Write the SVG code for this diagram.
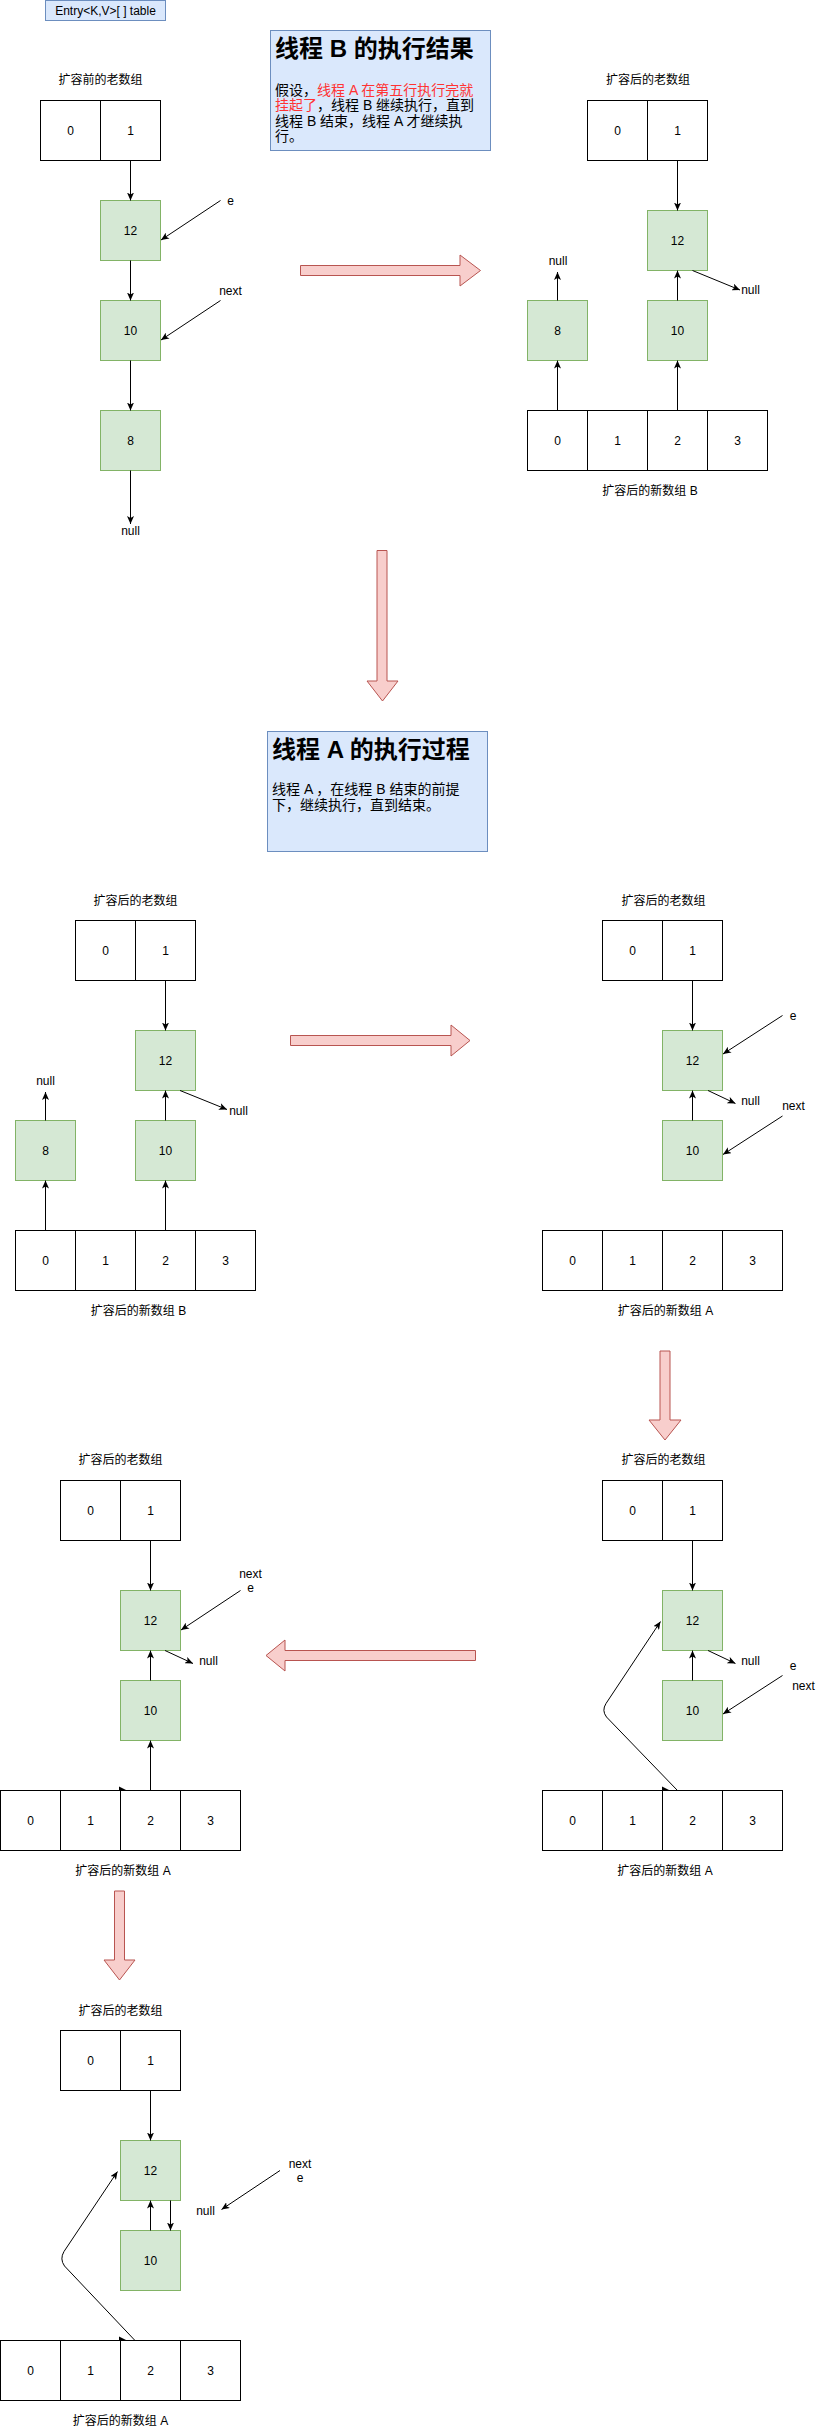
<svg xmlns="http://www.w3.org/2000/svg" width="824" height="2431" viewBox="0 0 824 2431">
<style>
text{font-family:"Liberation Sans","Noto Sans CJK SC",sans-serif;font-size:12px;fill:#000;text-anchor:middle}
.cell{fill:#fff;stroke:#000;stroke-width:1}
.nd{fill:#d5e8d4;stroke:#82b366;stroke-width:1}
.note{fill:#dae8fc;stroke:#6c8ebf;stroke-width:1}
.big{fill:#f8cecc;stroke:#b85450;stroke-width:1}
.e{fill:none;stroke:#000;stroke-width:1;marker-end:url(#ah)}
.h1{font-size:24px;font-weight:bold;text-anchor:start}
.bd{font-size:14px;text-anchor:start}
.red{fill:#ff3333}
.st{text-anchor:start}
</style>
<defs>
<marker id="ah" viewBox="0 0 8 7" refX="8" refY="3.5" markerWidth="8" markerHeight="7" orient="auto" markerUnits="userSpaceOnUse">
<path d="M0,0 L8,3.5 L0,7 L2,3.5 Z" fill="#000"/>
</marker>
</defs>

<g id="entry-label">
<rect class="note" x="45.5" y="0.5" width="120" height="20"/>
<text x="105.5" y="15">Entry&lt;K,V&gt;[ ] table</text>
</g>

<!-- Section 1: note -->
<g id="note-b">
<rect class="note" x="270.5" y="30.5" width="220" height="120"/>
<text class="h1" x="275" y="57">线程 B 的执行结果</text>
<text class="bd" x="275" y="94.5">假设，<tspan class="red">线程 A 在第五行执行完就</tspan></text>
<text class="bd" x="275" y="110"><tspan class="red">挂起了</tspan>，线程 B 继续执行，直到</text>
<text class="bd" x="275" y="125.5">线程 B 结束，线程 A 才继续执</text>
<text class="bd" x="275" y="141">行。</text>
</g>

<!-- Section 1 left -->
<g id="s1-old">
<text x="100.5" y="84">扩容前的老数组</text>
<rect class="cell" x="40.5" y="100.5" width="60" height="60"/><text x="70.5" y="134.5">0</text>
<rect class="cell" x="100.5" y="100.5" width="60" height="60"/><text x="130.5" y="134.5">1</text>
</g>
<g id="s1-n12"><rect class="nd" x="100.5" y="200.5" width="60" height="60"/><text x="130.5" y="234.5">12</text></g>
<g id="s1-n10"><rect class="nd" x="100.5" y="300.5" width="60" height="60"/><text x="130.5" y="334.5">10</text></g>
<g id="s1-n8"><rect class="nd" x="100.5" y="410.5" width="60" height="60"/><text x="130.5" y="444.5">8</text></g>
<g id="s1-labels">
<text x="130.5" y="535">null</text>
<text x="230.5" y="205">e</text>
<text x="230.5" y="295">next</text>
</g>

<!-- Section 1 right -->
<g id="s1r-old">
<text x="648" y="84">扩容后的老数组</text>
<rect class="cell" x="587.5" y="100.5" width="60" height="60"/><text x="617.5" y="134.5">0</text>
<rect class="cell" x="647.5" y="100.5" width="60" height="60"/><text x="677.5" y="134.5">1</text>
</g>
<g id="s1r-n12"><rect class="nd" x="647.5" y="210.5" width="60" height="60"/><text x="677.5" y="244.5">12</text></g>
<g id="s1r-n8"><rect class="nd" x="527.5" y="300.5" width="60" height="60"/><text x="557.5" y="334.5">8</text></g>
<g id="s1r-n10"><rect class="nd" x="647.5" y="300.5" width="60" height="60"/><text x="677.5" y="334.5">10</text></g>
<g id="s1r-new">
<rect class="cell" x="527.5" y="410.5" width="60" height="60"/><text x="557.5" y="444.5">0</text>
<rect class="cell" x="587.5" y="410.5" width="60" height="60"/><text x="617.5" y="444.5">1</text>
<rect class="cell" x="647.5" y="410.5" width="60" height="60"/><text x="677.5" y="444.5">2</text>
<rect class="cell" x="707.5" y="410.5" width="60" height="60"/><text x="737.5" y="444.5">3</text>
<text x="650" y="495">扩容后的新数组 B</text>
</g>
<g id="s1r-labels">
<text x="558" y="265">null</text>
<text x="750.5" y="294">null</text>
</g>

<g id="arrow-1"><path class="big" d="M300.5,265.5 H460 V255 L480.5,270.5 L460,286 V275.5 H300.5 Z"/></g>
<g id="arrow-2"><path class="big" d="M377,550.5 H387 V681 H398 L382.5,701 L367,681 H377 Z"/></g>

<!-- Section 2 note -->
<g id="note-a">
<rect class="note" x="267.5" y="731.5" width="220" height="120"/>
<text class="h1" x="272" y="758">线程 A 的执行过程</text>
<text class="bd" x="272" y="794">线程 A ，在线程 B 结束的前提</text>
<text class="bd" x="272" y="810">下，继续执行，直到结束。</text>
</g>

<!-- Section 3 left -->
<g id="s3l-old">
<text x="135.5" y="905">扩容后的老数组</text>
<rect class="cell" x="75.5" y="920.5" width="60" height="60"/><text x="105.5" y="954.5">0</text>
<rect class="cell" x="135.5" y="920.5" width="60" height="60"/><text x="165.5" y="954.5">1</text>
</g>
<g id="s3l-n12"><rect class="nd" x="135.5" y="1030.5" width="60" height="60"/><text x="165.5" y="1064.5">12</text></g>
<g id="s3l-n8"><rect class="nd" x="15.5" y="1120.5" width="60" height="60"/><text x="45.5" y="1154.5">8</text></g>
<g id="s3l-n10"><rect class="nd" x="135.5" y="1120.5" width="60" height="60"/><text x="165.5" y="1154.5">10</text></g>
<g id="s3l-new">
<rect class="cell" x="15.5" y="1230.5" width="60" height="60"/><text x="45.5" y="1264.5">0</text>
<rect class="cell" x="75.5" y="1230.5" width="60" height="60"/><text x="105.5" y="1264.5">1</text>
<rect class="cell" x="135.5" y="1230.5" width="60" height="60"/><text x="165.5" y="1264.5">2</text>
<rect class="cell" x="195.5" y="1230.5" width="60" height="60"/><text x="225.5" y="1264.5">3</text>
<text x="138.5" y="1315">扩容后的新数组 B</text>
</g>
<g id="s3l-labels">
<text x="45.5" y="1085">null</text>
<text x="238.5" y="1115">null</text>
</g>

<g id="arrow-3"><path class="big" d="M290.5,1035.5 H451 V1025 L470,1040.5 L451,1056 V1045.5 H290.5 Z"/></g>

<!-- Section 3 right -->
<g id="s3r-old">
<text x="663.5" y="905">扩容后的老数组</text>
<rect class="cell" x="602.5" y="920.5" width="60" height="60"/><text x="632.5" y="954.5">0</text>
<rect class="cell" x="662.5" y="920.5" width="60" height="60"/><text x="692.5" y="954.5">1</text>
</g>
<g id="s3r-n12"><rect class="nd" x="662.5" y="1030.5" width="60" height="60"/><text x="692.5" y="1064.5">12</text></g>
<g id="s3r-n10"><rect class="nd" x="662.5" y="1120.5" width="60" height="60"/><text x="692.5" y="1154.5">10</text></g>
<g id="s3r-new">
<rect class="cell" x="542.5" y="1230.5" width="60" height="60"/><text x="572.5" y="1264.5">0</text>
<rect class="cell" x="602.5" y="1230.5" width="60" height="60"/><text x="632.5" y="1264.5">1</text>
<rect class="cell" x="662.5" y="1230.5" width="60" height="60"/><text x="692.5" y="1264.5">2</text>
<rect class="cell" x="722.5" y="1230.5" width="60" height="60"/><text x="752.5" y="1264.5">3</text>
<text x="665.5" y="1315">扩容后的新数组 A</text>
</g>
<g id="s3r-labels">
<text x="793" y="1020">e</text>
<text x="750.5" y="1105">null</text>
<text x="793.5" y="1110">next</text>
</g>

<g id="arrow-4"><path class="big" d="M660,1351 H670 V1420 H681 L665,1440 L649,1420 H660 Z"/></g>

<!-- Section 4 left -->
<g id="s4l-old">
<text x="120.5" y="1464">扩容后的老数组</text>
<rect class="cell" x="60.5" y="1480.5" width="60" height="60"/><text x="90.5" y="1514.5">0</text>
<rect class="cell" x="120.5" y="1480.5" width="60" height="60"/><text x="150.5" y="1514.5">1</text>
</g>
<g id="s4l-n12"><rect class="nd" x="120.5" y="1590.5" width="60" height="60"/><text x="150.5" y="1624.5">12</text></g>
<g id="s4l-n10"><rect class="nd" x="120.5" y="1680.5" width="60" height="60"/><text x="150.5" y="1714.5">10</text></g>
<g id="s4l-new">
<rect class="cell" x="0.5" y="1790.5" width="60" height="60"/><text x="30.5" y="1824.5">0</text>
<rect class="cell" x="60.5" y="1790.5" width="60" height="60"/><text x="90.5" y="1824.5">1</text>
<rect class="cell" x="120.5" y="1790.5" width="60" height="60"/><text x="150.5" y="1824.5">2</text>
<rect class="cell" x="180.5" y="1790.5" width="60" height="60"/><text x="210.5" y="1824.5">3</text>
<text x="123" y="1875">扩容后的新数组 A</text>
</g>
<g id="s4l-labels">
<text x="208.5" y="1665">null</text>
<text x="250.5" y="1578">next</text>
<text x="250.5" y="1592">e</text>
</g>

<g id="arrow-5"><path class="big" d="M475.5,1650.5 H285 V1640 L266,1655.5 L285,1671 V1660.5 H475.5 Z"/></g>

<!-- Section 4 right -->
<g id="s4r-old">
<text x="663.5" y="1464">扩容后的老数组</text>
<rect class="cell" x="602.5" y="1480.5" width="60" height="60"/><text x="632.5" y="1514.5">0</text>
<rect class="cell" x="662.5" y="1480.5" width="60" height="60"/><text x="692.5" y="1514.5">1</text>
</g>
<g id="s4r-n12"><rect class="nd" x="662.5" y="1590.5" width="60" height="60"/><text x="692.5" y="1624.5">12</text></g>
<g id="s4r-n10"><rect class="nd" x="662.5" y="1680.5" width="60" height="60"/><text x="692.5" y="1714.5">10</text></g>
<g id="s4r-new">
<rect class="cell" x="542.5" y="1790.5" width="60" height="60"/><text x="572.5" y="1824.5">0</text>
<rect class="cell" x="602.5" y="1790.5" width="60" height="60"/><text x="632.5" y="1824.5">1</text>
<rect class="cell" x="662.5" y="1790.5" width="60" height="60"/><text x="692.5" y="1824.5">2</text>
<rect class="cell" x="722.5" y="1790.5" width="60" height="60"/><text x="752.5" y="1824.5">3</text>
<text x="665" y="1875">扩容后的新数组 A</text>
</g>
<g id="s4r-labels">
<text x="750.5" y="1665">null</text>
<text x="793" y="1670">e</text>
<text x="803.5" y="1690">next</text>
</g>

<g id="arrow-6"><path class="big" d="M114.5,1891 H124.5 V1960 H135 L119.5,1980 L104,1960 H114.5 Z"/></g>

<!-- Section 5 -->
<g id="s5-old">
<text x="120.5" y="2015">扩容后的老数组</text>
<rect class="cell" x="60.5" y="2030.5" width="60" height="60"/><text x="90.5" y="2064.5">0</text>
<rect class="cell" x="120.5" y="2030.5" width="60" height="60"/><text x="150.5" y="2064.5">1</text>
</g>
<g id="s5-n12"><rect class="nd" x="120.5" y="2140.5" width="60" height="60"/><text x="150.5" y="2174.5">12</text></g>
<g id="s5-n10"><rect class="nd" x="120.5" y="2230.5" width="60" height="60"/><text x="150.5" y="2264.5">10</text></g>
<g id="s5-new">
<rect class="cell" x="0.5" y="2340.5" width="60" height="60"/><text x="30.5" y="2374.5">0</text>
<rect class="cell" x="60.5" y="2340.5" width="60" height="60"/><text x="90.5" y="2374.5">1</text>
<rect class="cell" x="120.5" y="2340.5" width="60" height="60"/><text x="150.5" y="2374.5">2</text>
<rect class="cell" x="180.5" y="2340.5" width="60" height="60"/><text x="210.5" y="2374.5">3</text>
<text x="120.5" y="2425">扩容后的新数组 A</text>
</g>
<g id="s5-labels">
<text x="300" y="2168">next</text>
<text x="300" y="2182">e</text>
<text x="205.5" y="2215">null</text>
</g>

<g id="connectors">
<!-- s1 left -->
<line class="e" x1="130.5" y1="160.5" x2="130.5" y2="200.5"/>
<line class="e" x1="130.5" y1="260.5" x2="130.5" y2="300.5"/>
<line class="e" x1="130.5" y1="360.5" x2="130.5" y2="410.5"/>
<line class="e" x1="130.5" y1="470.5" x2="130.5" y2="524"/>
<line class="e" x1="220.5" y1="200.5" x2="161" y2="240"/>
<line class="e" x1="220.5" y1="300.5" x2="161" y2="340"/>
<!-- s1 right -->
<line class="e" x1="677.5" y1="160.5" x2="677.5" y2="210.5"/>
<line class="e" x1="677.5" y1="300.5" x2="677.5" y2="270.5"/>
<line class="e" x1="557.5" y1="300.5" x2="557.5" y2="272"/>
<line class="e" x1="692.5" y1="270.5" x2="740" y2="290"/>
<line class="e" x1="557.5" y1="410.5" x2="557.5" y2="360.5"/>
<line class="e" x1="677.5" y1="410.5" x2="677.5" y2="360.5"/>
<!-- s3 left -->
<line class="e" x1="165.5" y1="980.5" x2="165.5" y2="1030.5"/>
<line class="e" x1="165.5" y1="1120.5" x2="165.5" y2="1090.5"/>
<line class="e" x1="45.5" y1="1120.5" x2="45.5" y2="1092"/>
<line class="e" x1="180" y1="1090.5" x2="227" y2="1109.5"/>
<line class="e" x1="45.5" y1="1230.5" x2="45.5" y2="1180.5"/>
<line class="e" x1="165.5" y1="1230.5" x2="165.5" y2="1180.5"/>
<!-- s3 right -->
<line class="e" x1="692.5" y1="980.5" x2="692.5" y2="1030.5"/>
<line class="e" x1="692.5" y1="1120.5" x2="692.5" y2="1090.5"/>
<line class="e" x1="782.5" y1="1015.5" x2="723" y2="1054"/>
<line class="e" x1="708" y1="1090.5" x2="735.5" y2="1103.5"/>
<line class="e" x1="782.5" y1="1116" x2="723" y2="1154.5"/>
<!-- s4 left -->
<line class="e" x1="150.5" y1="1540.5" x2="150.5" y2="1590.5"/>
<line class="e" x1="150.5" y1="1680.5" x2="150.5" y2="1650.5"/>
<line class="e" x1="150.5" y1="1790.5" x2="150.5" y2="1740.5"/>
<line class="e" x1="165" y1="1650.5" x2="193" y2="1663.5"/>
<line class="e" x1="240.5" y1="1590.5" x2="181" y2="1630"/>
<path d="M119,1786.5 L127,1790.5 L119,1790.5 Z" fill="#000"/>
<!-- s4 right -->
<line class="e" x1="692.5" y1="1540.5" x2="692.5" y2="1590.5"/>
<line class="e" x1="692.5" y1="1680.5" x2="692.5" y2="1650.5"/>
<line class="e" x1="708" y1="1650.5" x2="735.5" y2="1663.5"/>
<line class="e" x1="782.5" y1="1675.5" x2="723" y2="1714"/>
<path class="e" d="M677.5,1790.5 L606.5,1717 Q601.5,1710.5 606,1703.5 L660.5,1621.5"/>
<path d="M662,1786.5 L670,1790.5 L662,1790.5 Z" fill="#000"/>
<!-- s5 -->
<line class="e" x1="150.5" y1="2090.5" x2="150.5" y2="2140.5"/>
<line class="e" x1="150.5" y1="2230.5" x2="150.5" y2="2200.5"/>
<line class="e" x1="170.5" y1="2200.5" x2="170.5" y2="2230.5"/>
<line class="e" x1="280" y1="2170.5" x2="221.5" y2="2209.5"/>
<path class="e" d="M135,2340.5 L64.5,2266 Q59.5,2259 64,2251.5 L117.5,2171.5"/>
<path d="M119,2336.5 L127,2340.5 L119,2340.5 Z" fill="#000"/>
</g>
</svg>
